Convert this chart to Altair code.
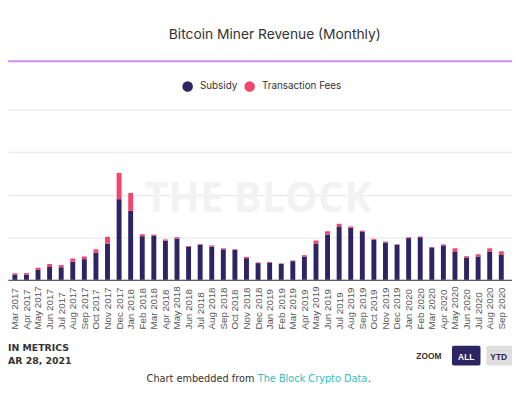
import altair as alt
import pandas as pd

# ---- data (USD millions) ----
months = [
    "Mar 2017", "Apr 2017", "May 2017", "Jun 2017", "Jul 2017", "Aug 2017",
    "Sep 2017", "Oct 2017", "Nov 2017", "Dec 2017", "Jan 2018", "Feb 2018",
    "Mar 2018", "Apr 2018", "May 2018", "Jun 2018", "Jul 2018", "Aug 2018",
    "Sep 2018", "Oct 2018", "Nov 2018", "Dec 2018", "Jan 2019", "Feb 2019",
    "Mar 2019", "Apr 2019", "May 2019", "Jun 2019", "Jul 2019", "Aug 2019",
    "Sep 2019", "Oct 2019", "Nov 2019", "Dec 2019", "Jan 2020", "Feb 2020",
    "Mar 2020", "Apr 2020", "May 2020", "Jun 2020", "Jul 2020", "Aug 2020",
    "Sep 2020",
]
subsidy = [
    61, 62, 116, 150, 147, 212, 243, 320, 424, 947, 809, 512,
    516, 458, 485, 385, 412, 389, 358, 350, 254, 196, 200, 185,
    219, 274, 427, 531, 627, 612, 562, 470, 435, 412, 489, 500,
    373, 404, 327, 262, 274, 327, 292,
]
fees = [
    16, 16, 26, 35, 26, 38, 31, 38, 81, 308, 211, 23,
    15, 16, 15, 11, 7, 15, 12, 8, 15, 8, 11, 8,
    8, 15, 35, 39, 31, 15, 16, 11, 15, 7, 11, 8,
    12, 12, 43, 15, 26, 43, 43,
]
series_names = ["Subsidy", "Transaction Fees"]
y_ticks = [0, 500, 1000, 1500, 2000]

title_text = "Bitcoin Miner Revenue (Monthly)"
watermark_text = "THE BLOCK"
section_text = "IN METRICS"
date_text = "AR 28, 2021"
zoom_text = "ZOOM"
btn_all = "ALL"
btn_ytd = "YTD"
caption_a = "Chart embedded from"
caption_b = "The Block Crypto Data"
caption_c = "."

NAVY = "#2d2463"
PINK = "#f0466f"

rows = []
for i, m in enumerate(months):
    rows.append({"idx": i, "month": m, "series": series_names[0], "value": subsidy[i], "ord": 0})
    rows.append({"idx": i, "month": m, "series": series_names[1], "value": fees[i], "ord": 1})
df = pd.DataFrame(rows)

label_expr = "[" + ",".join("'%s'" % m for m in months) + "][datum.value]"

bars = alt.Chart(df).mark_bar(size=5).encode(
    x=alt.X(
        "idx:Q",
        scale=alt.Scale(domain=[-1 / 6, 42.5], nice=False, zero=False),
        axis=alt.Axis(
            values=list(range(len(months))), labelExpr=label_expr, title=None,
            grid=False, ticks=False, tickSize=0, domainColor="#333333",
            labelAngle=270, labelAlign="left", labelBaseline="middle",
            labelPadding=50, labelOverlap=False, labelFlush=False,
            labelFont="Liberation Sans", labelFontSize=10, labelColor="#555555",
        ),
    ),
    y=alt.Y(
        "value:Q", stack="zero",
        scale=alt.Scale(domain=[0, 2000], nice=False),
        axis=alt.Axis(values=y_ticks, labels=False, ticks=False, domain=False,
                      title=None, gridColor="#e6e6e6"),
    ),
    color=alt.Color(
        "series:N",
        scale=alt.Scale(domain=series_names, range=[NAVY, PINK]),
        legend=alt.Legend(
            orient="none", legendX=177, legendY=-29, direction="horizontal",
            title=None, symbolType="circle", symbolSize=115, symbolStrokeWidth=0,
            symbolOpacity=1, labelFont="Inter", labelFontSize=10,
            labelColor="#333333", labelOffset=7, columnPadding=7, padding=0,
        ),
    ),
    order=alt.Order("ord:Q"),
)


def txt(s, x, y, size, color, font, weight="normal", align="left"):
    return alt.Chart(pd.DataFrame({"t": [s]})).mark_text(
        align=align, baseline="alphabetic", fontSize=size, font=font,
        fontWeight=weight, color=color,
    ).encode(text="t:N", x=alt.value(x), y=alt.value(y))


def box(x, x2, y, y2, color):
    return alt.Chart(pd.DataFrame({"a": [0]})).mark_rect(
        color=color, cornerRadius=2
    ).encode(x=alt.value(x), x2=alt.value(x2), y=alt.value(y), y2=alt.value(y2))


watermark = txt(watermark_text, 254, 104, 42, "#f2f2f2", "Open Sans", "bold", "center")
title = txt(title_text, 271, -71.5, 14, "#333333", "Inter", align="center")
rule = alt.Chart(pd.DataFrame({"a": [0]})).mark_rule(
    color="#d58bee", strokeWidth=2
).encode(x=alt.value(-10), x2=alt.value(530), y=alt.value(-49))

footer = [
    txt(section_text, 0, 245.3, 9.5, "#333333", "DejaVu Sans", "bold", "left"),
    txt(date_text, 0, 258.7, 9.5, "#333333", "DejaVu Sans", "bold", "left"),
    txt(zoom_text, 427.5, 253.7, 8.5, "#333333", "Liberation Sans", "bold", "center"),
    box(451, 480, 240, 260, NAVY),
    txt(btn_all, 465.5, 254, 8.5, "#ffffff", "Liberation Sans", "bold", "center"),
    box(486, 516, 240, 260, "#dedede"),
    txt(btn_ytd, 498.5, 254, 8.5, NAVY, "Liberation Sans", "bold", "center"),
    txt(caption_a, 250.3, 277, 9.9, "#333333", "DejaVu Sans", align="right"),
    txt(caption_b, 253.7, 277, 9.9, "#33bdbd", "DejaVu Sans", align="left"),
    txt(caption_c, 365.8, 277, 9.9, "#333333", "DejaVu Sans", align="left"),
]

chart = alt.layer(watermark, bars, rule, title, *footer).properties(
    width=512, height=173,
    autosize=alt.AutoSizeParams(type="none"),
    padding={"left": 0, "top": 100, "right": 0, "bottom": 119},
    background="#ffffff",
).configure_view(strokeWidth=0)

chart.save("out.html", embed_options={"renderer": "svg", "actions": False})
